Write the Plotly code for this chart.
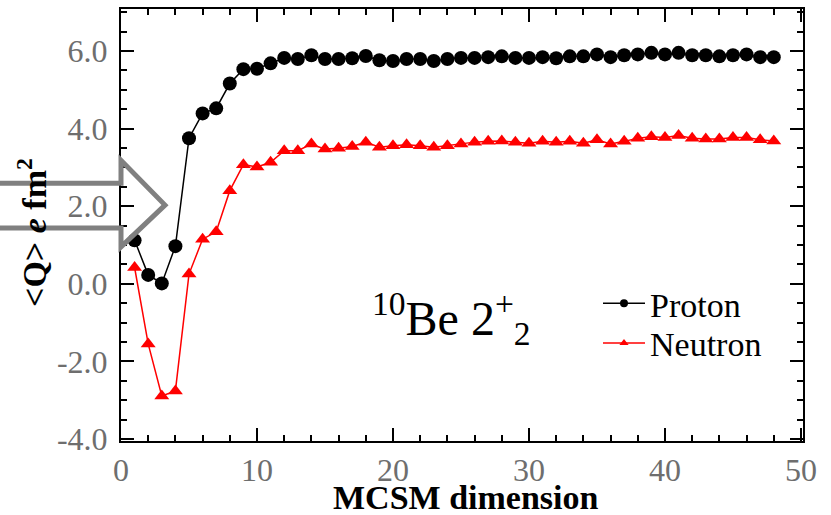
import plotly.graph_objects as go

dims = list(range(1, 49))
proton = [1.12, 0.23, 0.01, 0.97, 3.75, 4.39, 4.52, 5.16, 5.53, 5.54, 5.68, 5.82,
          5.79, 5.89, 5.79, 5.79, 5.81, 5.87, 5.76, 5.74, 5.79, 5.79, 5.74, 5.79,
          5.82, 5.82, 5.84, 5.86, 5.82, 5.82, 5.84, 5.81, 5.86, 5.86, 5.91, 5.84,
          5.89, 5.91, 5.95, 5.91, 5.95, 5.89, 5.89, 5.86, 5.89, 5.91, 5.84, 5.84]
neutron = [0.42, -1.55, -2.89, -2.76, 0.25, 1.15, 1.34, 2.40, 3.07, 3.01, 3.13, 3.43,
           3.43, 3.60, 3.47, 3.49, 3.54, 3.65, 3.52, 3.56, 3.58, 3.56, 3.52, 3.56,
           3.60, 3.65, 3.67, 3.68, 3.65, 3.62, 3.67, 3.65, 3.67, 3.62, 3.71, 3.60,
           3.67, 3.75, 3.79, 3.77, 3.82, 3.75, 3.73, 3.73, 3.77, 3.77, 3.71, 3.68]
y_ticks = [-4.0, -2.0, 0.0, 2.0, 4.0, 6.0]
x_ticks = [0, 10, 20, 30, 40, 50]

W, H = 831, 515
L, R, T, B = 121, 28, 7, 74
pw, ph = W - L - R, H - T - B

def px(x):
    return (x - L) / pw

def py(y):
    return (H - B - y) / ph

SERIF = "Liberation Serif, Times New Roman, serif"
GREY = "#6e6e6e"

fig = go.Figure()
fig.add_trace(go.Scatter(x=dims, y=proton, mode="lines+markers", name="Proton",
                         line=dict(color="black", width=1.5),
                         marker=dict(symbol="circle", size=14, color="black"),
                         showlegend=False))
fig.add_trace(go.Scatter(x=dims, y=neutron, mode="lines+markers", name="Neutron",
                         line=dict(color="#ff0000", width=1.5),
                         marker=dict(symbol="triangle-up", size=13, color="#ff0000"),
                         showlegend=False))
# legend entries with small markers
fig.add_trace(go.Scatter(x=[None], y=[None], mode="lines+markers", name="Proton",
                         line=dict(color="black", width=1.5),
                         marker=dict(symbol="circle", size=8, color="black"),
                         legend="legend"))
fig.add_trace(go.Scatter(x=[None], y=[None], mode="lines+markers", name="Neutron",
                         line=dict(color="#ff0000", width=1.5),
                         marker=dict(symbol="triangle-up", size=8, color="#ff0000"),
                         legend="legend2"))

axis_common = dict(showline=True, linecolor="black", linewidth=2, mirror="allticks",
                   ticks="inside", ticklen=13, tickwidth=1.5, tickcolor="black",
                   showgrid=False, zeroline=False,
                   tickfont=dict(family=SERIF, size=32, color=GREY))

fig.update_xaxes(range=[0, 50.15], tickvals=x_ticks, ticktext=[str(v) for v in x_ticks],
                 minor=dict(dtick=2, ticks="inside", ticklen=6, tickwidth=1.5, tickcolor="black"),
                 **axis_common)
fig.update_yaxes(range=[-4.05, 7.08], tickvals=y_ticks, ticktext=[f"{v:.1f}" for v in y_ticks],
                 minor=dict(dtick=0.5, ticks="inside", ticklen=6, tickwidth=1.5, tickcolor="black"),
                 ticklabelstandoff=5,
                 **axis_common)

# arrow outline
pts = [(0, 182), (121, 182), (121, 159), (165, 204), (121, 246), (121, 227), (0, 227)]
path = "M " + " L ".join(f"{px(a):.5f},{py(b):.5f}" for a, b in pts)
fig.add_shape(type="path", path=path, xref="paper", yref="paper",
              line=dict(color="#808080", width=5), layer="above")

fig.add_annotation(text="<b>&lt;Q&gt; <i>e</i> fm<sup>2</sup></b>", xref="paper", yref="paper",
                   x=px(32), y=py(232), xanchor="center", yanchor="middle",
                   textangle=-90, showarrow=False,
                   font=dict(family=SERIF, size=34, color="black"))
fig.add_annotation(text="<b>MCSM dimension</b>", xref="paper", yref="paper",
                   x=px(466), y=py(498), xanchor="center", yanchor="middle", showarrow=False,
                   font=dict(family=SERIF, size=34, color="black"))
fig.add_annotation(text="<sup>10</sup>Be 2<sup>+</sup><sub>2</sub>", xref="paper", yref="paper",
                   x=px(451), y=py(318), xanchor="center", yanchor="middle", showarrow=False,
                   font=dict(family=SERIF, size=48, color="black"))

leg_common = dict(xanchor="left", yanchor="middle", bgcolor="rgba(0,0,0,0)", itemwidth=42,
                  font=dict(family=SERIF, size=34, color="black"))
fig.update_layout(width=W, height=H, margin=dict(l=L, r=R, t=T, b=B),
                  plot_bgcolor="white", paper_bgcolor="white",
                  legend=dict(x=px(598), y=py(303), **leg_common),
                  legend2=dict(x=px(598), y=py(343), **leg_common))
fig.write_html("out.html", config={"displayModeBar": False},
               post_script="document.body.style.margin='0px';")
